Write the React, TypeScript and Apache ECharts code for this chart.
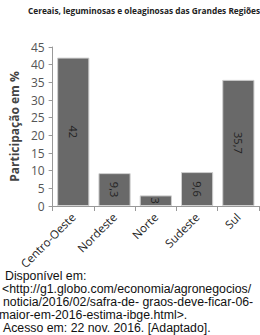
import React, { useEffect, useRef } from "react";
import * as echarts from "echarts";

const categories = ["Centro-Oeste", "Nordeste", "Norte", "Sudeste", "Sul"];
const values = [42, 9.3, 3, 9.6, 35.7];
const titleText = "Cereais, leguminosas e oleaginosas das Grandes Regiões";
const yAxisName = "Participação em %";
const sourceLines = [
  "Disponível em:",
  "<http://g1.globo.com/economia/agronegocios/",
  "noticia/2016/02/safra-de- graos-deve-ficar-06-",
  "maior-em-2016-estima-ibge.html>.",
  "Acesso em: 22 nov. 2016. [Adaptado].",
];

export default function App() {
  const ref = useRef<HTMLDivElement>(null);
  useEffect(() => {
    document.body.style.margin = "0";
    const chart = echarts.init(ref.current!, null, { renderer: "svg" });
    const font = "Open Sans";
    const lineY = [270, 283, 296, 309, 322];
    const lineX = [5, 2, 3, -1, 3];
    chart.setOption({
      animation: false,
      backgroundColor: "#ffffff",
      title: {
        text: titleText,
        left: 23,
        top: 1,
        textStyle: { fontSize: 8.3, fontWeight: "bold", color: "#222", fontFamily: font },
      },
      grid: { left: 47, right: 1, top: 47, bottom: 129, containLabel: false },
      xAxis: {
        type: "category",
        data: categories,
        axisLine: { lineStyle: { color: "#999" } },
        axisTick: { show: true, alignWithLabel: false, lineStyle: { color: "#999" } },
        axisLabel: {
          rotate: 45,
          interval: 0,
          fontSize: 11.5,
          color: "#222",
          fontFamily: font,
          margin: 9,
        },
      },
      yAxis: {
        type: "value",
        min: 0,
        max: 45,
        interval: 5,
        name: yAxisName,
        nameLocation: "middle",
        nameGap: 29,
        nameRotate: 90,
        nameTextStyle: { fontSize: 12, fontWeight: "bold", color: "#444", fontFamily: font },
        axisLine: { show: true, lineStyle: { color: "#999" } },
        axisTick: { show: true, length: 4, lineStyle: { color: "#999" } },
        splitLine: { show: false },
        axisLabel: { fontSize: 12, color: "#555", fontFamily: font, margin: 8 },
      },
      series: [
        {
          type: "bar",
          data: values,
          barCategoryGap: "22%",
          itemStyle: { color: "#696969", borderColor: "#cfcfcf", borderWidth: 1 },
          label: {
            show: true,
            position: "inside",
            rotate: -90,
            fontSize: 11,
            color: "#222",
            fontFamily: font,
            formatter: (p: any) => String(p.value).replace(".", ","),
          },
        },
      ],
      graphic: sourceLines.map((t, i) => ({
        type: "text",
        left: lineX[i],
        top: lineY[i],
        style: {
          text: t,
          fontSize: 12.3,
          lineHeight: 12,
          fill: "#111",
          fontFamily: "Liberation Sans",
        },
      })),
    });
    return () => chart.dispose();
  }, []);
  return <div ref={ref} style={{ width: 260, height: 335 }} />;
}
